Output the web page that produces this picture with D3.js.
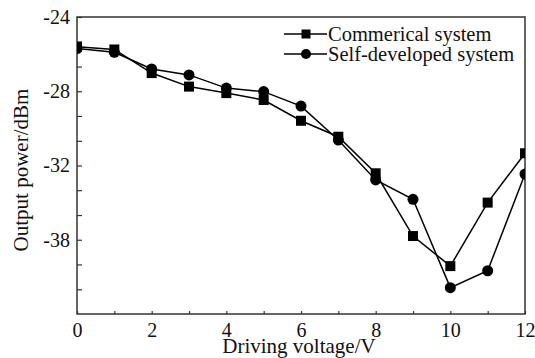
<!DOCTYPE html>
<html>
<head>
<meta charset="utf-8">
<script src="https://cdn.jsdelivr.net/npm/d3@7"></script>
<style>
  body { margin: 0; background: #fff; }
  svg { display: block; font-family: 'Liberation Serif', 'DejaVu Serif', serif; }
</style>
</head>
<body>
<svg width="535" height="358"></svg>
<script>
const voltage = [0, 1, 2, 3, 4, 5, 6, 7, 8, 9, 10, 11, 12];
const commercial = [-25.6, -25.75, -27.02, -27.75, -28.1, -28.47, -29.59, -30.45, -32.42, -35.8, -37.42, -34.0, -31.34];
const selfDeveloped = [-25.7, -25.9, -26.8, -27.12, -27.83, -28.02, -28.8, -30.63, -32.78, -33.82, -38.58, -37.67, -32.46];
const xTickValues = [0, 2, 4, 6, 8, 10, 12];
const xMinorValues = [1, 3, 5, 7, 9, 11];
const yTickValues = [-24, -28, -32, -36];
const yTickLabels = ['-24', '-28', '-32', '-38'];
const yMinorValues = [-25.33, -26.67, -29.33, -30.67, -33.33, -34.67, -37.33, -38.67];
const seriesNames = ['Commerical system', 'Self-developed system'];

const serif = "'Liberation Serif', 'DejaVu Serif', serif";

const svg = d3.select('svg');
const width = +svg.attr('width');
const height = +svg.attr('height');
const margin = { top: 17, right: 10, bottom: 44, left: 77 };
const innerWidth = width - margin.left - margin.right;
const innerHeight = height - margin.top - margin.bottom;

const xScale = d3.scaleLinear().domain([0, 12]).range([0, innerWidth]);
const yScale = d3.scaleLinear().domain([-40, -24]).range([innerHeight, 0]);

const g = svg.append('g')
  .attr('transform', `translate(${margin.left},${margin.top})`);

svg.append('defs').append('clipPath')
  .attr('id', 'plot-clip')
  .append('rect')
    .attr('width', innerWidth)
    .attr('height', innerHeight);

// axes, ticks pointing inward
const axisStyle = sel => sel
  .attr('font-family', serif)
  .attr('font-size', 20)
  .call(s => s.selectAll('.domain').remove())
  .call(s => s.selectAll('.tick line').attr('stroke', '#333').attr('stroke-width', 1.2))
  .call(s => s.selectAll('.tick text').attr('fill', '#111').style('font-family', serif));

g.append('g')
  .attr('transform', `translate(0,${innerHeight})`)
  .call(d3.axisBottom(xScale).tickValues(xTickValues).tickSize(-3).tickPadding(9).tickFormat(d3.format('d')))
  .call(axisStyle);
g.append('g')
  .attr('transform', `translate(0,${innerHeight})`)
  .call(d3.axisBottom(xScale).tickValues(xMinorValues).tickSize(-3).tickFormat(''))
  .call(axisStyle);

g.append('g')
  .call(d3.axisLeft(yScale).tickValues(yTickValues).tickSize(-5).tickPadding(7)
    .tickFormat((d, i) => yTickLabels[i]))
  .call(axisStyle);
g.append('g')
  .call(d3.axisLeft(yScale).tickValues(yMinorValues).tickSize(-5).tickFormat(''))
  .call(axisStyle);

g.append('rect')
  .attr('width', innerWidth)
  .attr('height', innerHeight)
  .attr('fill', 'none')
  .attr('stroke', '#333')
  .attr('stroke-width', 1.5);

// axis labels
svg.append('text')
  .attr('x', 299)
  .attr('y', 353)
  .attr('text-anchor', 'middle')
  .attr('font-size', 21)
  .attr('fill', '#111')
  .text('Driving voltage/V');

svg.append('text')
  .attr('transform', 'translate(28,170) rotate(-90)')
  .attr('text-anchor', 'middle')
  .attr('font-size', 21)
  .attr('fill', '#111')
  .text('Output power/dBm');

// series
const plot = g.append('g').attr('clip-path', 'url(#plot-clip)');
const line = d3.line()
  .x((d, i) => xScale(voltage[i]))
  .y(d => yScale(d));

[commercial, selfDeveloped].forEach(series => {
  plot.append('path')
    .datum(series)
    .attr('fill', 'none')
    .attr('stroke', '#000')
    .attr('stroke-width', 1.5)
    .attr('d', line);
});

const sq = 10;
plot.selectAll('.sq').data(commercial).enter().append('rect')
  .attr('class', 'sq')
  .attr('x', (d, i) => xScale(voltage[i]) - sq / 2)
  .attr('y', d => yScale(d) - sq / 2)
  .attr('width', sq)
  .attr('height', sq)
  .attr('fill', '#000');

plot.selectAll('.dot').data(selfDeveloped).enter().append('circle')
  .attr('class', 'dot')
  .attr('cx', (d, i) => xScale(voltage[i]))
  .attr('cy', d => yScale(d))
  .attr('r', 5.5)
  .attr('fill', '#000');

// legend
const legend = svg.append('g');
const legendRows = [
  { name: seriesNames[0], y: 34, marker: 'square' },
  { name: seriesNames[1], y: 54, marker: 'circle' }
];
legendRows.forEach(row => {
  legend.append('line')
    .attr('x1', 284).attr('x2', 327)
    .attr('y1', row.y).attr('y2', row.y)
    .attr('stroke', '#000')
    .attr('stroke-width', 1.5);
  if (row.marker === 'square') {
    legend.append('rect')
      .attr('x', 306 - 4.5).attr('y', row.y - 4.5)
      .attr('width', 9).attr('height', 9)
      .attr('fill', '#000');
  } else {
    legend.append('circle')
      .attr('cx', 306).attr('cy', row.y)
      .attr('r', 5)
      .attr('fill', '#000');
  }
  legend.append('text')
    .attr('x', 328)
    .attr('y', row.y + 7)
    .attr('font-size', 20.5)
    .attr('fill', '#111')
    .text(row.name);
});
</script>
</body>
</html>
